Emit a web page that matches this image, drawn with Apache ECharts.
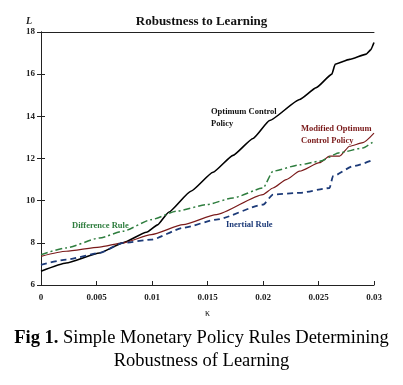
<!DOCTYPE html>
<html><head><meta charset="utf-8">
<script src="https://cdn.jsdelivr.net/npm/echarts@6/dist/echarts.min.js"></script>
<style>html,body{margin:0;padding:0;background:#fff}#c{width:403px;height:385px}</style>
</head><body><div id="c"></div>
<script>
var optimumControl = [[0,6.65],[0.00227,7.04],[0.00528,7.52],[0.00738,8.0],[0.0095,8.5],[0.0105,8.85],[0.0115,9.45],[0.0135,10.45],[0.0155,11.35],[0.0173,12.15],[0.0191,12.95],[0.0206,13.8],[0.0233,14.8],[0.0248,15.36],[0.0262,16.0],[0.0265,16.47],[0.0278,16.7],[0.0293,16.95],[0.0297,17.15],[0.03,17.5]];
var modifiedOptimum = [[0,7.36],[0.00227,7.6],[0.00528,7.8],[0.00738,8.0],[0.00994,8.39],[0.0128,8.86],[0.0158,9.34],[0.02,10.29],[0.0209,10.6],[0.0221,11.0],[0.0233,11.4],[0.0251,11.8],[0.026,12.11],[0.0269,12.11],[0.0278,12.58],[0.029,12.75],[0.03,13.2]];
var differenceRule = [[0,7.44],[0.00227,7.76],[0.00528,8.23],[0.00738,8.55],[0.00994,9.1],[0.0122,9.5],[0.0149,9.81],[0.0173,10.13],[0.02,10.6],[0.0209,11.4],[0.0233,11.7],[0.0251,11.87],[0.0269,12.27],[0.029,12.5],[0.03,12.82]];
var inertialRule = [[0,6.96],[0.00227,7.2],[0.00528,7.52],[0.00738,8.0],[0.00994,8.15],[0.0128,8.71],[0.0158,9.1],[0.02,9.81],[0.0209,10.29],[0.0233,10.37],[0.026,10.6],[0.0263,11.16],[0.0281,11.63],[0.03,11.95]];
var xTicks = ['0','0.005','0.01','0.015','0.02','0.025','0.03'];
var yTicks = ['6','8','10','12','14','16','18'];

var serif = '"Liberation Serif","Times New Roman",serif';
var chart = echarts.init(document.getElementById('c'));
var axisLbl = {fontFamily: serif, fontSize: 9, fontWeight: 'bold', color: '#222'};
chart.setOption({
  animation: false,
  grid: {left: 41, right: 29, top: 32, bottom: 100},
  title: {text: 'Robustness to Learning', left: 'center', top: 10,
    textStyle: {fontFamily: serif, fontSize: 13, fontWeight: 'bold', color: '#111'}},
  xAxis: [{type: 'value', min: 0, max: 0.03, interval: 0.005,
    axisLine: {show: true, lineStyle: {color: '#222', width: 1}},
    axisTick: {show: true, inside: true, length: 4, lineStyle: {color: '#222'}},
    splitLine: {show: false},
    axisLabel: Object.assign({margin: 8, formatter: function(v){ var i = Math.round(v/0.005); return xTicks[i] || ''; }}, axisLbl),
    name: 'κ', nameLocation: 'middle', nameGap: 23,
    nameTextStyle: {fontFamily: serif, fontSize: 10, color: '#222'}},
   {type: 'value', position: 'top', min: 0, max: 0.03, interval: 0.005,
    axisLine: {show: true, lineStyle: {color: '#222'}}, axisTick: {show: false}, axisLabel: {show: false}, splitLine: {show: false}}],
  yAxis: [{type: 'value', min: 6, max: 18, interval: 2,
    axisLine: {show: true, lineStyle: {color: '#222'}},
    axisTick: {show: true, inside: true, length: 4, lineStyle: {color: '#222'}},
    splitLine: {show: false},
    axisLabel: Object.assign({margin: 6, formatter: function(v){ var i = Math.round((v-6)/2); return yTicks[i] || ''; }}, axisLbl),
    name: 'L', nameLocation: 'end', nameGap: 6,
    nameTextStyle: {fontFamily: serif, fontSize: 10, fontStyle: 'italic', fontWeight: 'bold', color: '#222', align: 'right', padding: [0, 9, 0, 0]}},
   {type: 'value', position: 'right', min: 6, max: 18, interval: 2,
    axisLine: {show: true, lineStyle: {color: '#222'}},
    axisTick: {show: true, inside: true, length: 4, lineStyle: {color: '#222'}},
    axisLabel: {show: false}, splitLine: {show: false}}],
  series: [
    {name: 'Optimum Control Policy', type: 'line', data: optimumControl, smooth: 0.15, smoothMonotone: 'x', showSymbol: false,
      lineStyle: {color: '#000', width: 1.6}},
    {name: 'Modified Optimum Control Policy', type: 'line', data: modifiedOptimum, smooth: 0.2, smoothMonotone: 'x', showSymbol: false,
      lineStyle: {color: '#7a1a1a', width: 1.2}},
    {name: 'Difference Rule', type: 'line', data: differenceRule, smooth: 0.2, smoothMonotone: 'x', showSymbol: false,
      lineStyle: {color: '#2e7d3e', width: 1.5, type: [7, 3, 2, 3]}},
    {name: 'Inertial Rule', type: 'line', data: inertialRule, smooth: 0.2, smoothMonotone: 'x', showSymbol: false,
      lineStyle: {color: '#1c3a78', width: 1.8, type: [6, 4]}}
  ],
  graphic: [
    {type: 'text', left: 211, top: 106, style: {text: 'Optimum Control\nPolicy', fill: '#111', font: 'bold 8.5px ' + serif, lineHeight: 12}},
    {type: 'text', left: 301, top: 123, style: {text: 'Modified Optimum\nControl Policy', fill: '#7a1a1a', font: 'bold 8.5px ' + serif, lineHeight: 12}},
    {type: 'text', left: 72, top: 221, style: {text: 'Difference Rule', fill: '#2e7d3e', font: 'bold 8.5px ' + serif}},
    {type: 'text', left: 226, top: 220, style: {text: 'Inertial Rule', fill: '#1c3a78', font: 'bold 8.5px ' + serif}},
    {type: 'text', left: 'center', top: 329, style: {rich: {b: {font: 'bold 18.5px ' + serif, fill: '#000'}, n: {font: '18.5px ' + serif, fill: '#000'}}, text: '{b|Fig 1.}{n| Simple Monetary Policy Rules Determining}'}},
    {type: 'text', left: 'center', top: 352, style: {text: 'Robustness of Learning', font: '18.5px ' + serif, fill: '#000'}}
  ]
});
</script></body></html>
